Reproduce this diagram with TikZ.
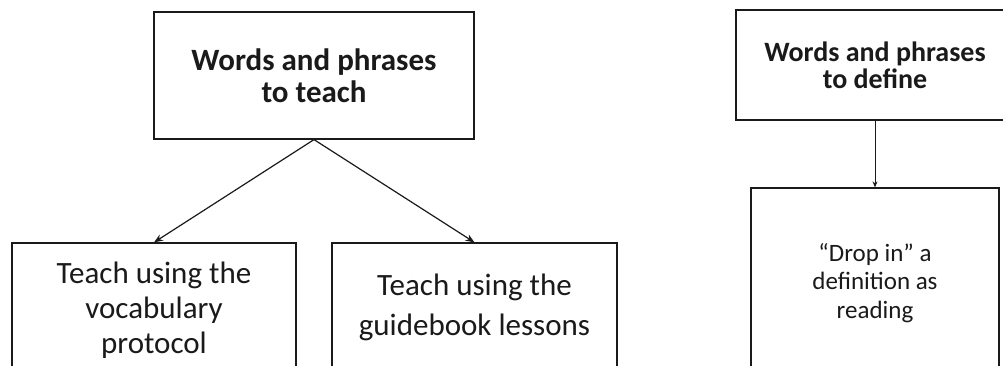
\documentclass[tikz,border=0pt]{standalone}
\usepackage{fontspec}
\setmainfont{Carlito}
\usetikzlibrary{arrows.meta}
\definecolor{ink}{HTML}{1A1A1A}
\tikzset{
  box/.style={draw=ink, line width=1.2pt, rectangle, inner sep=0pt, align=center, text=ink},
  conn/.style={draw=ink, line width=1.2pt, -{Stealth[length=9pt,width=7pt]}},
  vconn/.style={draw=ink, line width=1pt, -{Stealth[length=6pt,width=5pt]}}
}
\begin{document}
\begin{tikzpicture}[x=1pt,y=-1pt]
\clip (0,0) rectangle (1003,366);
\useasboundingbox (0,0) rectangle (1003,366);
\fill[white] (0,0) rectangle (1003,366);
\node[box, minimum width=320pt, minimum height=127pt,
      font=\fontsize{31}{32}\selectfont\bfseries] (A) at (314,75.5)
      {Words and phrases\\to teach};
\node[box, minimum width=284pt, minimum height=134pt,
      font=\fontsize{31}{35}\selectfont] (B) at (154,310)
      {Teach using the\\vocabulary\\protocol};
\node[box, minimum width=285pt, minimum height=128pt,
      font=\fontsize{31}{40}\selectfont] (C) at (474.5,307)
      {Teach using the\\guidebook lessons};
\node[box, minimum width=278pt, minimum height=110pt,
      font=\fontsize{28}{27}\selectfont\bfseries] (D) at (875,65)
      {Words and phrases\\to define};
\node[box, minimum width=248pt, minimum height=190pt,
      font=\fontsize{25}{28.5}\selectfont] (E) at (875,283)
      {“Drop in” a\\definition as\\reading};
\draw[conn] (A.south) -- (B.north);
\draw[conn] (A.south) -- (C.north);
\draw[vconn] (D.south) -- (E.north);
\end{tikzpicture}
\end{document}
